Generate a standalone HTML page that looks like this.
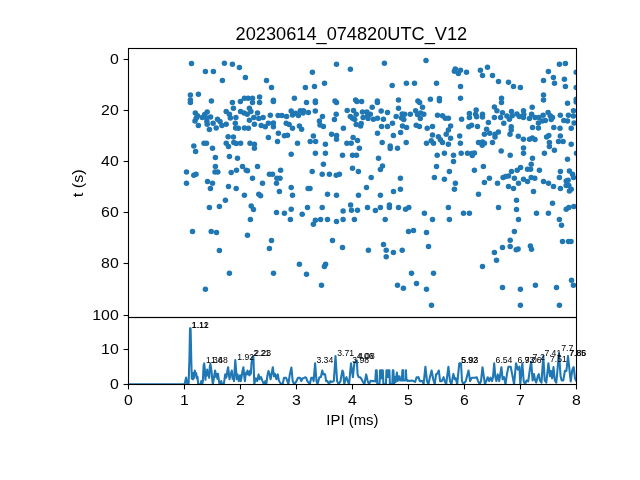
<!DOCTYPE html><html><head><meta charset="utf-8"><style>html,body{margin:0;padding:0;background:#fff;}svg{display:block;will-change:transform;}text{font-family:"Liberation Sans",sans-serif;fill:#000;}</style></head><body><svg width="640" height="480" viewBox="0 0 640 480"><rect width="640" height="480" fill="#fff"/><defs><clipPath id="ct"><rect x="128.5" y="48.5" width="448" height="269"/></clipPath><clipPath id="cb"><rect x="128.5" y="317.5" width="448" height="67"/></clipPath></defs><g clip-path="url(#ct)" fill="#1f77b4"><circle cx="191.5" cy="63.5" r="2.75"/><circle cx="205.4" cy="71.4" r="2.75"/><circle cx="213.4" cy="71.4" r="2.75"/><circle cx="224.4" cy="63.2" r="2.75"/><circle cx="232.4" cy="64.2" r="2.75"/><circle cx="239.4" cy="67.4" r="2.75"/><circle cx="245.4" cy="77.4" r="2.75"/><circle cx="222.4" cy="80.4" r="2.75"/><circle cx="190.4" cy="95.1" r="2.75"/><circle cx="198.4" cy="94.2" r="2.75"/><circle cx="190.4" cy="99.9" r="2.75"/><circle cx="190.4" cy="102.6" r="2.75"/><circle cx="211.4" cy="101.0" r="2.75"/><circle cx="232.4" cy="102.4" r="2.75"/><circle cx="240.4" cy="101.4" r="2.75"/><circle cx="244.4" cy="98.2" r="2.75"/><circle cx="248.1" cy="98.2" r="2.75"/><circle cx="252.5" cy="98.2" r="2.75"/><circle cx="252.5" cy="102.6" r="2.75"/><circle cx="259.6" cy="97.0" r="2.75"/><circle cx="259.6" cy="102.4" r="2.75"/><circle cx="233.4" cy="108.2" r="2.75"/><circle cx="249.4" cy="108.2" r="2.75"/><circle cx="266.5" cy="80.4" r="2.75"/><circle cx="271.5" cy="87.4" r="2.75"/><circle cx="273.4" cy="100.2" r="2.75"/><circle cx="273.4" cy="101.5" r="2.75"/><circle cx="294.4" cy="98.2" r="2.75"/><circle cx="305.4" cy="87.4" r="2.75"/><circle cx="314.5" cy="86.4" r="2.75"/><circle cx="312.4" cy="72.2" r="2.75"/><circle cx="324.5" cy="83.2" r="2.75"/><circle cx="336.5" cy="64.2" r="2.75"/><circle cx="306.5" cy="102.4" r="2.75"/><circle cx="315.4" cy="101.0" r="2.75"/><circle cx="315.4" cy="102.5" r="2.75"/><circle cx="335.0" cy="101.1" r="2.75"/><circle cx="336.5" cy="102.6" r="2.75"/><circle cx="350.4" cy="69.2" r="2.75"/><circle cx="384.4" cy="63.2" r="2.75"/><circle cx="392.2" cy="85.4" r="2.75"/><circle cx="406.4" cy="83.2" r="2.75"/><circle cx="414.5" cy="83.2" r="2.75"/><circle cx="355.6" cy="99.9" r="2.75"/><circle cx="356.9" cy="101.4" r="2.75"/><circle cx="361.6" cy="101.4" r="2.75"/><circle cx="377.4" cy="101.0" r="2.75"/><circle cx="377.4" cy="102.5" r="2.75"/><circle cx="398.5" cy="100.1" r="2.75"/><circle cx="372.2" cy="107.2" r="2.75"/><circle cx="398.5" cy="108.2" r="2.75"/><circle cx="417.9" cy="101.1" r="2.75"/><circle cx="419.6" cy="102.6" r="2.75"/><circle cx="422.5" cy="107.2" r="2.75"/><circle cx="347.2" cy="110.4" r="2.75"/><circle cx="353.5" cy="110.4" r="2.75"/><circle cx="381.2" cy="111.0" r="2.75"/><circle cx="415.6" cy="110.8" r="2.75"/><circle cx="455.3" cy="69.1" r="2.75"/><circle cx="454.4" cy="71.2" r="2.75"/><circle cx="460.5" cy="70.3" r="2.75"/><circle cx="458.4" cy="73.6" r="2.75"/><circle cx="426.0" cy="60.4" r="2.75"/><circle cx="466.5" cy="72.2" r="2.75"/><circle cx="480.4" cy="70.2" r="2.75"/><circle cx="487.5" cy="67.2" r="2.75"/><circle cx="482.5" cy="75.4" r="2.75"/><circle cx="492.5" cy="75.4" r="2.75"/><circle cx="498.5" cy="81.4" r="2.75"/><circle cx="436.5" cy="83.2" r="2.75"/><circle cx="460.5" cy="86.4" r="2.75"/><circle cx="430.4" cy="99.2" r="2.75"/><circle cx="439.4" cy="98.5" r="2.75"/><circle cx="439.4" cy="100.8" r="2.75"/><circle cx="460.5" cy="98.2" r="2.75"/><circle cx="501.5" cy="98.2" r="2.75"/><circle cx="501.5" cy="102.4" r="2.75"/><circle cx="494.4" cy="107.0" r="2.75"/><circle cx="476.2" cy="110.1" r="2.75"/><circle cx="496.9" cy="110.8" r="2.75"/><circle cx="508.5" cy="82.2" r="2.75"/><circle cx="513.5" cy="86.4" r="2.75"/><circle cx="520.4" cy="87.4" r="2.75"/><circle cx="543.5" cy="80.4" r="2.75"/><circle cx="548.4" cy="71.4" r="2.75"/><circle cx="553.4" cy="77.4" r="2.75"/><circle cx="554.5" cy="83.2" r="2.75"/><circle cx="559.4" cy="64.2" r="2.75"/><circle cx="565.4" cy="63.5" r="2.75"/><circle cx="564.4" cy="79.2" r="2.75"/><circle cx="565.4" cy="86.4" r="2.75"/><circle cx="576.2" cy="72.2" r="2.75"/><circle cx="576.2" cy="87.4" r="2.75"/><circle cx="543.5" cy="95.1" r="2.75"/><circle cx="543.5" cy="100.1" r="2.75"/><circle cx="576.2" cy="99.2" r="2.75"/><circle cx="576.2" cy="102.0" r="2.75"/><circle cx="567.5" cy="103.2" r="2.75"/><circle cx="532.2" cy="107.2" r="2.75"/><circle cx="523.5" cy="110.8" r="2.75"/><circle cx="573.5" cy="110.8" r="2.75"/><circle cx="511.5" cy="111.5" r="2.75"/><circle cx="195.3" cy="113.0" r="2.75"/><circle cx="197.5" cy="115.8" r="2.75"/><circle cx="195.0" cy="121.1" r="2.75"/><circle cx="198.4" cy="125.5" r="2.75"/><circle cx="207.2" cy="112.1" r="2.75"/><circle cx="202.2" cy="117.4" r="2.75"/><circle cx="210.6" cy="117.1" r="2.75"/><circle cx="206.9" cy="121.4" r="2.75"/><circle cx="207.2" cy="124.2" r="2.75"/><circle cx="213.1" cy="123.3" r="2.75"/><circle cx="209.4" cy="129.6" r="2.75"/><circle cx="217.5" cy="119.2" r="2.75"/><circle cx="220.0" cy="121.4" r="2.75"/><circle cx="216.2" cy="128.0" r="2.75"/><circle cx="221.9" cy="125.5" r="2.75"/><circle cx="226.2" cy="111.4" r="2.75"/><circle cx="229.4" cy="114.2" r="2.75"/><circle cx="230.3" cy="118.0" r="2.75"/><circle cx="235.9" cy="117.4" r="2.75"/><circle cx="235.3" cy="123.3" r="2.75"/><circle cx="235.6" cy="128.0" r="2.75"/><circle cx="238.4" cy="128.3" r="2.75"/><circle cx="226.2" cy="124.2" r="2.75"/><circle cx="228.1" cy="136.8" r="2.75"/><circle cx="233.4" cy="137.1" r="2.75"/><circle cx="240.6" cy="111.4" r="2.75"/><circle cx="244.1" cy="113.0" r="2.75"/><circle cx="247.2" cy="114.2" r="2.75"/><circle cx="250.9" cy="111.4" r="2.75"/><circle cx="257.5" cy="113.0" r="2.75"/><circle cx="253.8" cy="117.4" r="2.75"/><circle cx="249.4" cy="120.2" r="2.75"/><circle cx="258.8" cy="118.6" r="2.75"/><circle cx="254.4" cy="124.2" r="2.75"/><circle cx="244.4" cy="128.0" r="2.75"/><circle cx="248.4" cy="128.3" r="2.75"/><circle cx="263.1" cy="117.4" r="2.75"/><circle cx="270.3" cy="115.2" r="2.75"/><circle cx="278.1" cy="115.5" r="2.75"/><circle cx="281.9" cy="115.5" r="2.75"/><circle cx="286.6" cy="116.4" r="2.75"/><circle cx="291.2" cy="111.1" r="2.75"/><circle cx="292.5" cy="114.9" r="2.75"/><circle cx="261.2" cy="125.5" r="2.75"/><circle cx="265.3" cy="126.8" r="2.75"/><circle cx="268.4" cy="123.3" r="2.75"/><circle cx="273.4" cy="123.0" r="2.75"/><circle cx="273.4" cy="126.8" r="2.75"/><circle cx="286.2" cy="123.3" r="2.75"/><circle cx="289.1" cy="124.6" r="2.75"/><circle cx="292.5" cy="128.3" r="2.75"/><circle cx="278.4" cy="133.3" r="2.75"/><circle cx="284.4" cy="135.8" r="2.75"/><circle cx="287.5" cy="135.2" r="2.75"/><circle cx="268.4" cy="137.4" r="2.75"/><circle cx="295.6" cy="113.3" r="2.75"/><circle cx="298.4" cy="115.5" r="2.75"/><circle cx="300.3" cy="110.8" r="2.75"/><circle cx="303.4" cy="110.8" r="2.75"/><circle cx="303.1" cy="113.0" r="2.75"/><circle cx="308.4" cy="112.4" r="2.75"/><circle cx="315.3" cy="111.1" r="2.75"/><circle cx="322.5" cy="116.4" r="2.75"/><circle cx="319.4" cy="121.1" r="2.75"/><circle cx="320.0" cy="124.9" r="2.75"/><circle cx="323.4" cy="126.4" r="2.75"/><circle cx="299.4" cy="126.1" r="2.75"/><circle cx="301.6" cy="129.2" r="2.75"/><circle cx="313.4" cy="136.1" r="2.75"/><circle cx="336.2" cy="114.2" r="2.75"/><circle cx="334.4" cy="119.6" r="2.75"/><circle cx="356.2" cy="114.2" r="2.75"/><circle cx="350.3" cy="116.4" r="2.75"/><circle cx="352.5" cy="118.3" r="2.75"/><circle cx="354.7" cy="119.6" r="2.75"/><circle cx="362.5" cy="112.1" r="2.75"/><circle cx="363.1" cy="117.4" r="2.75"/><circle cx="356.2" cy="124.6" r="2.75"/><circle cx="361.2" cy="123.6" r="2.75"/><circle cx="360.6" cy="126.1" r="2.75"/><circle cx="343.4" cy="128.3" r="2.75"/><circle cx="331.6" cy="134.2" r="2.75"/><circle cx="336.6" cy="135.5" r="2.75"/><circle cx="353.1" cy="137.4" r="2.75"/><circle cx="366.9" cy="112.1" r="2.75"/><circle cx="370.3" cy="114.2" r="2.75"/><circle cx="367.5" cy="116.1" r="2.75"/><circle cx="368.1" cy="118.6" r="2.75"/><circle cx="373.4" cy="119.2" r="2.75"/><circle cx="377.5" cy="118.3" r="2.75"/><circle cx="387.5" cy="112.4" r="2.75"/><circle cx="383.4" cy="119.2" r="2.75"/><circle cx="392.5" cy="123.3" r="2.75"/><circle cx="396.2" cy="116.4" r="2.75"/><circle cx="381.6" cy="126.4" r="2.75"/><circle cx="387.5" cy="126.6" r="2.75"/><circle cx="377.5" cy="133.3" r="2.75"/><circle cx="393.4" cy="135.5" r="2.75"/><circle cx="402.2" cy="113.9" r="2.75"/><circle cx="404.7" cy="114.2" r="2.75"/><circle cx="401.6" cy="118.0" r="2.75"/><circle cx="403.8" cy="119.6" r="2.75"/><circle cx="410.3" cy="114.2" r="2.75"/><circle cx="417.5" cy="114.6" r="2.75"/><circle cx="420.6" cy="113.0" r="2.75"/><circle cx="423.8" cy="114.2" r="2.75"/><circle cx="420.3" cy="118.6" r="2.75"/><circle cx="402.5" cy="126.1" r="2.75"/><circle cx="406.6" cy="127.4" r="2.75"/><circle cx="416.2" cy="125.2" r="2.75"/><circle cx="419.4" cy="126.4" r="2.75"/><circle cx="427.2" cy="128.3" r="2.75"/><circle cx="432.5" cy="126.4" r="2.75"/><circle cx="400.6" cy="132.4" r="2.75"/><circle cx="432.5" cy="134.9" r="2.75"/><circle cx="437.5" cy="115.2" r="2.75"/><circle cx="442.5" cy="115.8" r="2.75"/><circle cx="445.3" cy="118.3" r="2.75"/><circle cx="448.4" cy="118.3" r="2.75"/><circle cx="461.6" cy="119.2" r="2.75"/><circle cx="450.6" cy="126.1" r="2.75"/><circle cx="448.4" cy="129.9" r="2.75"/><circle cx="446.2" cy="134.2" r="2.75"/><circle cx="438.4" cy="136.8" r="2.75"/><circle cx="459.7" cy="136.1" r="2.75"/><circle cx="469.4" cy="113.6" r="2.75"/><circle cx="469.4" cy="117.4" r="2.75"/><circle cx="475.6" cy="114.2" r="2.75"/><circle cx="476.6" cy="116.8" r="2.75"/><circle cx="482.5" cy="114.2" r="2.75"/><circle cx="482.5" cy="117.1" r="2.75"/><circle cx="488.4" cy="122.4" r="2.75"/><circle cx="494.4" cy="117.4" r="2.75"/><circle cx="502.5" cy="112.7" r="2.75"/><circle cx="500.6" cy="117.4" r="2.75"/><circle cx="503.8" cy="123.3" r="2.75"/><circle cx="468.8" cy="126.8" r="2.75"/><circle cx="471.6" cy="125.2" r="2.75"/><circle cx="477.5" cy="126.4" r="2.75"/><circle cx="486.6" cy="129.2" r="2.75"/><circle cx="484.4" cy="134.2" r="2.75"/><circle cx="489.7" cy="133.3" r="2.75"/><circle cx="495.0" cy="134.2" r="2.75"/><circle cx="498.4" cy="132.1" r="2.75"/><circle cx="495.0" cy="137.1" r="2.75"/><circle cx="506.9" cy="116.1" r="2.75"/><circle cx="512.2" cy="115.8" r="2.75"/><circle cx="509.4" cy="119.2" r="2.75"/><circle cx="516.9" cy="113.9" r="2.75"/><circle cx="519.4" cy="116.4" r="2.75"/><circle cx="523.4" cy="117.4" r="2.75"/><circle cx="523.8" cy="114.6" r="2.75"/><circle cx="531.6" cy="114.2" r="2.75"/><circle cx="529.4" cy="118.6" r="2.75"/><circle cx="535.0" cy="117.4" r="2.75"/><circle cx="538.8" cy="117.4" r="2.75"/><circle cx="538.4" cy="123.0" r="2.75"/><circle cx="538.4" cy="128.0" r="2.75"/><circle cx="532.5" cy="127.4" r="2.75"/><circle cx="511.2" cy="126.8" r="2.75"/><circle cx="511.2" cy="129.9" r="2.75"/><circle cx="510.0" cy="134.2" r="2.75"/><circle cx="543.1" cy="115.2" r="2.75"/><circle cx="545.3" cy="120.5" r="2.75"/><circle cx="542.2" cy="121.1" r="2.75"/><circle cx="548.1" cy="112.4" r="2.75"/><circle cx="550.3" cy="115.8" r="2.75"/><circle cx="552.5" cy="117.4" r="2.75"/><circle cx="551.2" cy="119.6" r="2.75"/><circle cx="560.3" cy="115.2" r="2.75"/><circle cx="563.8" cy="120.5" r="2.75"/><circle cx="567.5" cy="121.1" r="2.75"/><circle cx="568.4" cy="115.2" r="2.75"/><circle cx="573.4" cy="116.1" r="2.75"/><circle cx="574.1" cy="123.0" r="2.75"/><circle cx="553.8" cy="127.4" r="2.75"/><circle cx="560.0" cy="128.3" r="2.75"/><circle cx="571.2" cy="128.3" r="2.75"/><circle cx="548.8" cy="135.5" r="2.75"/><circle cx="546.6" cy="137.1" r="2.75"/><circle cx="560.3" cy="136.1" r="2.75"/><circle cx="193.8" cy="146.1" r="2.75"/><circle cx="195.6" cy="151.4" r="2.75"/><circle cx="204.0" cy="143.2" r="2.75"/><circle cx="206.5" cy="143.2" r="2.75"/><circle cx="212.5" cy="148.2" r="2.75"/><circle cx="226.2" cy="143.2" r="2.75"/><circle cx="228.5" cy="146.5" r="2.75"/><circle cx="233.8" cy="142.4" r="2.75"/><circle cx="236.2" cy="143.6" r="2.75"/><circle cx="240.6" cy="143.2" r="2.75"/><circle cx="250.0" cy="143.2" r="2.75"/><circle cx="254.4" cy="144.2" r="2.75"/><circle cx="254.4" cy="148.2" r="2.75"/><circle cx="215.4" cy="157.4" r="2.75"/><circle cx="229.4" cy="156.4" r="2.75"/><circle cx="237.5" cy="158.2" r="2.75"/><circle cx="215.4" cy="166.5" r="2.75"/><circle cx="215.0" cy="172.0" r="2.75"/><circle cx="217.8" cy="172.0" r="2.75"/><circle cx="242.5" cy="166.5" r="2.75"/><circle cx="257.5" cy="166.5" r="2.75"/><circle cx="236.5" cy="170.2" r="2.75"/><circle cx="231.2" cy="172.4" r="2.75"/><circle cx="246.2" cy="170.2" r="2.75"/><circle cx="247.5" cy="170.8" r="2.75"/><circle cx="186.5" cy="172.0" r="2.75"/><circle cx="193.8" cy="175.2" r="2.75"/><circle cx="196.0" cy="174.2" r="2.75"/><circle cx="186.5" cy="183.2" r="2.75"/><circle cx="207.5" cy="181.4" r="2.75"/><circle cx="212.5" cy="183.2" r="2.75"/><circle cx="210.4" cy="188.4" r="2.75"/><circle cx="252.5" cy="178.2" r="2.75"/><circle cx="228.5" cy="186.4" r="2.75"/><circle cx="236.2" cy="188.4" r="2.75"/><circle cx="262.5" cy="183.2" r="2.75"/><circle cx="244.4" cy="195.2" r="2.75"/><circle cx="258.8" cy="194.2" r="2.75"/><circle cx="260.6" cy="195.8" r="2.75"/><circle cx="277.5" cy="141.5" r="2.75"/><circle cx="297.5" cy="143.2" r="2.75"/><circle cx="310.2" cy="141.5" r="2.75"/><circle cx="315.6" cy="141.5" r="2.75"/><circle cx="325.4" cy="144.2" r="2.75"/><circle cx="336.5" cy="139.2" r="2.75"/><circle cx="291.2" cy="154.2" r="2.75"/><circle cx="315.4" cy="153.2" r="2.75"/><circle cx="325.4" cy="153.2" r="2.75"/><circle cx="342.5" cy="155.2" r="2.75"/><circle cx="323.4" cy="164.2" r="2.75"/><circle cx="280.6" cy="170.2" r="2.75"/><circle cx="312.2" cy="171.4" r="2.75"/><circle cx="269.4" cy="174.2" r="2.75"/><circle cx="272.5" cy="174.2" r="2.75"/><circle cx="276.9" cy="178.2" r="2.75"/><circle cx="280.0" cy="178.2" r="2.75"/><circle cx="276.5" cy="183.2" r="2.75"/><circle cx="322.2" cy="174.2" r="2.75"/><circle cx="329.4" cy="174.2" r="2.75"/><circle cx="336.2" cy="175.2" r="2.75"/><circle cx="339.4" cy="174.2" r="2.75"/><circle cx="291.2" cy="187.4" r="2.75"/><circle cx="308.1" cy="188.4" r="2.75"/><circle cx="310.0" cy="188.4" r="2.75"/><circle cx="279.4" cy="191.4" r="2.75"/><circle cx="292.5" cy="195.2" r="2.75"/><circle cx="327.5" cy="194.2" r="2.75"/><circle cx="336.5" cy="195.2" r="2.75"/><circle cx="357.5" cy="140.5" r="2.75"/><circle cx="346.9" cy="143.2" r="2.75"/><circle cx="351.2" cy="143.2" r="2.75"/><circle cx="382.2" cy="142.4" r="2.75"/><circle cx="390.2" cy="146.1" r="2.75"/><circle cx="390.2" cy="148.6" r="2.75"/><circle cx="397.5" cy="148.2" r="2.75"/><circle cx="406.2" cy="142.4" r="2.75"/><circle cx="359.4" cy="148.2" r="2.75"/><circle cx="352.5" cy="155.2" r="2.75"/><circle cx="356.5" cy="155.2" r="2.75"/><circle cx="378.5" cy="158.2" r="2.75"/><circle cx="352.5" cy="168.2" r="2.75"/><circle cx="358.4" cy="171.4" r="2.75"/><circle cx="382.5" cy="166.1" r="2.75"/><circle cx="380.4" cy="169.5" r="2.75"/><circle cx="371.2" cy="177.4" r="2.75"/><circle cx="400.4" cy="178.2" r="2.75"/><circle cx="366.5" cy="187.4" r="2.75"/><circle cx="393.5" cy="191.4" r="2.75"/><circle cx="400.4" cy="189.2" r="2.75"/><circle cx="358.5" cy="195.2" r="2.75"/><circle cx="380.4" cy="195.2" r="2.75"/><circle cx="426.5" cy="143.2" r="2.75"/><circle cx="431.2" cy="140.8" r="2.75"/><circle cx="433.5" cy="143.2" r="2.75"/><circle cx="442.5" cy="142.4" r="2.75"/><circle cx="448.4" cy="144.2" r="2.75"/><circle cx="460.4" cy="143.2" r="2.75"/><circle cx="478.5" cy="142.4" r="2.75"/><circle cx="482.5" cy="142.0" r="2.75"/><circle cx="484.4" cy="143.2" r="2.75"/><circle cx="482.2" cy="145.2" r="2.75"/><circle cx="492.5" cy="142.4" r="2.75"/><circle cx="501.2" cy="151.1" r="2.75"/><circle cx="437.2" cy="155.2" r="2.75"/><circle cx="444.4" cy="153.2" r="2.75"/><circle cx="453.5" cy="155.2" r="2.75"/><circle cx="453.5" cy="161.4" r="2.75"/><circle cx="461.2" cy="153.2" r="2.75"/><circle cx="467.5" cy="153.2" r="2.75"/><circle cx="471.9" cy="153.6" r="2.75"/><circle cx="474.4" cy="153.0" r="2.75"/><circle cx="472.2" cy="155.5" r="2.75"/><circle cx="436.5" cy="166.4" r="2.75"/><circle cx="449.4" cy="171.4" r="2.75"/><circle cx="474.4" cy="170.2" r="2.75"/><circle cx="483.4" cy="166.4" r="2.75"/><circle cx="434.4" cy="177.4" r="2.75"/><circle cx="444.4" cy="179.2" r="2.75"/><circle cx="455.4" cy="183.2" r="2.75"/><circle cx="454.4" cy="189.2" r="2.75"/><circle cx="489.4" cy="178.2" r="2.75"/><circle cx="484.4" cy="182.4" r="2.75"/><circle cx="497.5" cy="183.2" r="2.75"/><circle cx="478.5" cy="194.2" r="2.75"/><circle cx="535.0" cy="139.5" r="2.75"/><circle cx="549.4" cy="142.4" r="2.75"/><circle cx="549.4" cy="146.5" r="2.75"/><circle cx="558.5" cy="141.5" r="2.75"/><circle cx="563.1" cy="141.5" r="2.75"/><circle cx="571.2" cy="144.2" r="2.75"/><circle cx="576.5" cy="153.2" r="2.75"/><circle cx="523.5" cy="148.0" r="2.75"/><circle cx="523.5" cy="153.2" r="2.75"/><circle cx="510.2" cy="155.2" r="2.75"/><circle cx="544.4" cy="153.2" r="2.75"/><circle cx="554.4" cy="150.2" r="2.75"/><circle cx="532.5" cy="158.2" r="2.75"/><circle cx="567.5" cy="159.2" r="2.75"/><circle cx="531.2" cy="164.2" r="2.75"/><circle cx="520.6" cy="167.4" r="2.75"/><circle cx="517.2" cy="170.2" r="2.75"/><circle cx="527.5" cy="169.2" r="2.75"/><circle cx="530.6" cy="169.2" r="2.75"/><circle cx="539.4" cy="170.2" r="2.75"/><circle cx="511.5" cy="171.4" r="2.75"/><circle cx="560.4" cy="171.4" r="2.75"/><circle cx="569.4" cy="171.1" r="2.75"/><circle cx="572.5" cy="174.2" r="2.75"/><circle cx="573.5" cy="177.4" r="2.75"/><circle cx="508.5" cy="176.1" r="2.75"/><circle cx="514.4" cy="178.2" r="2.75"/><circle cx="523.5" cy="179.2" r="2.75"/><circle cx="527.5" cy="181.4" r="2.75"/><circle cx="531.2" cy="177.4" r="2.75"/><circle cx="534.8" cy="178.2" r="2.75"/><circle cx="518.5" cy="183.2" r="2.75"/><circle cx="543.5" cy="181.4" r="2.75"/><circle cx="548.5" cy="183.2" r="2.75"/><circle cx="553.5" cy="186.4" r="2.75"/><circle cx="559.4" cy="177.4" r="2.75"/><circle cx="560.4" cy="188.4" r="2.75"/><circle cx="566.2" cy="181.1" r="2.75"/><circle cx="568.1" cy="180.2" r="2.75"/><circle cx="566.2" cy="185.5" r="2.75"/><circle cx="568.8" cy="185.5" r="2.75"/><circle cx="571.2" cy="189.2" r="2.75"/><circle cx="569.4" cy="191.1" r="2.75"/><circle cx="508.5" cy="186.4" r="2.75"/><circle cx="513.5" cy="188.4" r="2.75"/><circle cx="533.5" cy="191.4" r="2.75"/><circle cx="225.4" cy="200.2" r="2.75"/><circle cx="209.4" cy="207.4" r="2.75"/><circle cx="219.4" cy="206.4" r="2.75"/><circle cx="251.2" cy="206.1" r="2.75"/><circle cx="253.5" cy="209.5" r="2.75"/><circle cx="250.4" cy="219.5" r="2.75"/><circle cx="192.5" cy="231.4" r="2.75"/><circle cx="211.2" cy="231.4" r="2.75"/><circle cx="216.5" cy="232.4" r="2.75"/><circle cx="247.5" cy="235.2" r="2.75"/><circle cx="219.4" cy="250.5" r="2.75"/><circle cx="276.5" cy="212.4" r="2.75"/><circle cx="284.4" cy="213.2" r="2.75"/><circle cx="291.2" cy="209.2" r="2.75"/><circle cx="290.4" cy="219.5" r="2.75"/><circle cx="302.2" cy="214.2" r="2.75"/><circle cx="307.5" cy="207.4" r="2.75"/><circle cx="322.2" cy="207.4" r="2.75"/><circle cx="315.4" cy="220.2" r="2.75"/><circle cx="313.4" cy="224.2" r="2.75"/><circle cx="320.6" cy="219.5" r="2.75"/><circle cx="327.5" cy="219.5" r="2.75"/><circle cx="336.5" cy="221.4" r="2.75"/><circle cx="343.1" cy="211.1" r="2.75"/><circle cx="343.1" cy="219.5" r="2.75"/><circle cx="271.5" cy="240.5" r="2.75"/><circle cx="269.4" cy="248.4" r="2.75"/><circle cx="332.5" cy="240.5" r="2.75"/><circle cx="342.5" cy="247.4" r="2.75"/><circle cx="350.6" cy="204.9" r="2.75"/><circle cx="351.5" cy="210.2" r="2.75"/><circle cx="357.5" cy="210.2" r="2.75"/><circle cx="367.5" cy="207.4" r="2.75"/><circle cx="375.4" cy="210.5" r="2.75"/><circle cx="380.4" cy="207.4" r="2.75"/><circle cx="389.4" cy="204.9" r="2.75"/><circle cx="389.4" cy="207.4" r="2.75"/><circle cx="398.5" cy="207.4" r="2.75"/><circle cx="405.6" cy="209.2" r="2.75"/><circle cx="408.8" cy="207.4" r="2.75"/><circle cx="424.4" cy="213.2" r="2.75"/><circle cx="354.4" cy="219.5" r="2.75"/><circle cx="385.2" cy="219.5" r="2.75"/><circle cx="408.5" cy="231.4" r="2.75"/><circle cx="413.5" cy="230.5" r="2.75"/><circle cx="383.5" cy="244.5" r="2.75"/><circle cx="368.4" cy="250.2" r="2.75"/><circle cx="386.2" cy="250.2" r="2.75"/><circle cx="393.4" cy="252.4" r="2.75"/><circle cx="402.2" cy="250.2" r="2.75"/><circle cx="386.2" cy="256.8" r="2.75"/><circle cx="448.4" cy="207.4" r="2.75"/><circle cx="432.5" cy="219.5" r="2.75"/><circle cx="449.4" cy="219.5" r="2.75"/><circle cx="463.5" cy="213.2" r="2.75"/><circle cx="469.4" cy="213.2" r="2.75"/><circle cx="498.5" cy="207.4" r="2.75"/><circle cx="426.5" cy="232.4" r="2.75"/><circle cx="428.5" cy="246.4" r="2.75"/><circle cx="494.4" cy="252.4" r="2.75"/><circle cx="502.5" cy="247.4" r="2.75"/><circle cx="516.5" cy="200.2" r="2.75"/><circle cx="516.5" cy="209.5" r="2.75"/><circle cx="518.5" cy="219.5" r="2.75"/><circle cx="514.4" cy="231.4" r="2.75"/><circle cx="510.2" cy="240.2" r="2.75"/><circle cx="510.2" cy="246.4" r="2.75"/><circle cx="516.2" cy="249.8" r="2.75"/><circle cx="518.1" cy="249.0" r="2.75"/><circle cx="530.4" cy="245.9" r="2.75"/><circle cx="531.5" cy="249.2" r="2.75"/><circle cx="536.5" cy="213.2" r="2.75"/><circle cx="548.4" cy="213.2" r="2.75"/><circle cx="552.5" cy="203.2" r="2.75"/><circle cx="559.4" cy="219.5" r="2.75"/><circle cx="561.5" cy="225.2" r="2.75"/><circle cx="566.2" cy="209.2" r="2.75"/><circle cx="568.8" cy="207.4" r="2.75"/><circle cx="573.8" cy="206.5" r="2.75"/><circle cx="562.5" cy="241.5" r="2.75"/><circle cx="568.5" cy="241.5" r="2.75"/><circle cx="571.0" cy="241.5" r="2.75"/><circle cx="229.4" cy="273.2" r="2.75"/><circle cx="205.4" cy="289.2" r="2.75"/><circle cx="273.5" cy="273.2" r="2.75"/><circle cx="299.4" cy="264.2" r="2.75"/><circle cx="306.5" cy="274.2" r="2.75"/><circle cx="325.6" cy="264.2" r="2.75"/><circle cx="324.4" cy="266.5" r="2.75"/><circle cx="321.5" cy="285.2" r="2.75"/><circle cx="411.5" cy="273.2" r="2.75"/><circle cx="397.5" cy="285.2" r="2.75"/><circle cx="403.4" cy="288.2" r="2.75"/><circle cx="416.5" cy="283.4" r="2.75"/><circle cx="433.5" cy="273.2" r="2.75"/><circle cx="426.5" cy="289.2" r="2.75"/><circle cx="431.5" cy="305.2" r="2.75"/><circle cx="482.5" cy="266.5" r="2.75"/><circle cx="496.5" cy="260.2" r="2.75"/><circle cx="502.5" cy="287.4" r="2.75"/><circle cx="520.4" cy="289.2" r="2.75"/><circle cx="535.4" cy="285.2" r="2.75"/><circle cx="556.5" cy="287.4" r="2.75"/><circle cx="571.5" cy="280.2" r="2.75"/><circle cx="573.4" cy="285.2" r="2.75"/><circle cx="520.4" cy="305.2" r="2.75"/><circle cx="559.4" cy="305.2" r="2.75"/><circle cx="518.3" cy="136.3" r="2.75"/><circle cx="523.4" cy="139.3" r="2.75"/><circle cx="529.5" cy="139.3" r="2.75"/><circle cx="532.3" cy="138.1" r="2.75"/><circle cx="503.1" cy="177.4" r="2.75"/><circle cx="505.6" cy="176.6" r="2.75"/><circle cx="440.4" cy="139.8" r="2.75"/><circle cx="450.6" cy="138.3" r="2.75"/><circle cx="196.2" cy="118.3" r="2.75"/><circle cx="204.7" cy="114.6" r="2.75"/><circle cx="206.6" cy="118.0" r="2.75"/></g><g clip-path="url(#cb)"><polyline points="128.50,384.20 184.60,384.20 186.10,377.60 187.30,384.20 188.60,384.20 189.50,355.80 190.00,328.40 190.60,328.40 191.30,360.80 191.80,378.80 192.40,374.80 193.00,379.30 193.60,372.80 194.10,377.80 194.80,370.60 195.50,374.80 196.20,373.30 196.80,378.30 197.50,376.80 198.20,384.20 200.50,384.20 201.30,381.00 202.20,384.20 202.80,381.80 203.60,365.80 204.20,363.40 204.80,368.80 205.40,379.80 206.00,372.30 206.60,375.80 207.20,369.60 207.80,374.80 208.40,373.30 209.20,377.80 209.80,366.80 210.30,363.80 210.90,366.80 211.60,371.80 212.20,378.80 212.80,384.20 213.50,380.80 214.20,375.80 215.10,370.50 215.90,376.80 216.60,373.80 217.40,378.80 218.00,373.90 218.80,379.80 219.50,384.20 220.30,384.20 221.20,381.10 222.00,384.20 223.80,384.20 224.60,378.80 225.20,374.40 225.80,377.80 226.60,376.80 227.40,370.80 228.10,367.20 228.80,372.80 229.50,379.20 230.20,375.80 231.00,373.40 231.80,370.50 232.60,378.80 233.20,377.20 234.00,381.10 234.60,370.80 235.30,360.00 236.00,368.80 236.70,379.20 237.40,374.40 238.10,376.80 238.80,381.10 239.60,377.80 240.10,375.30 240.80,381.10 241.60,376.80 242.50,370.80 243.40,367.20 244.20,375.80 244.90,381.10 245.60,374.80 246.30,372.40 247.00,374.30 247.50,370.50 248.20,374.40 248.90,372.40 249.60,375.40 250.20,370.50 250.90,373.80 251.50,362.80 252.50,356.60 253.40,356.60 254.30,384.20 255.00,381.10 255.75,378.20 257.20,381.10 258.60,374.40 259.60,379.20 261.00,377.20 262.50,381.10 263.90,384.20 265.30,381.10 266.30,384.20 267.40,375.80 268.50,371.00 269.60,374.40 270.60,379.20 271.80,372.80 272.80,367.20 274.00,376.30 275.10,373.90 276.40,379.20 277.80,374.40 278.80,380.10 279.70,382.00 281.20,384.20 282.60,384.20 284.00,377.70 286.00,377.70 287.40,381.10 288.40,384.20 289.80,374.40 291.40,367.50 292.70,381.10 294.10,384.20 296.00,382.00 298.00,377.70 299.90,377.70 301.30,381.10 302.50,378.20 303.70,378.20 305.00,377.20 306.10,377.70 307.40,381.10 309.80,384.20 311.20,377.70 312.70,377.70 313.60,381.10 315.10,363.30 316.50,381.10 317.50,384.20 319.40,377.20 320.80,377.20 322.30,370.50 323.20,374.40 324.20,373.90 325.10,374.40 326.10,381.10 327.50,381.10 329.00,384.20 330.40,381.10 331.80,382.00 333.80,381.10 335.50,356.10 337.10,381.10 338.60,384.20 340.50,381.10 342.40,370.50 343.30,372.40 344.30,384.20 345.30,379.20 346.40,377.20 347.70,381.10 349.10,384.20 351.00,363.30 352.90,377.20 354.40,362.80 355.30,361.80 356.80,360.30 357.60,374.40 358.70,377.20 360.10,377.20 361.60,379.20 363.00,382.00 364.40,384.20 366.20,374.40 367.70,381.10 369.10,384.20 370.50,380.80 372.50,381.10 374.90,381.10 375.30,381.50 375.90,370.20 376.73,370.20 377.29,384.20 379.51,384.20 380.07,370.20 380.66,370.20 381.22,378.50 381.78,370.20 382.83,370.20 383.39,384.20 385.91,384.20 386.47,370.20 387.03,370.20 387.59,377.00 388.15,370.20 388.71,377.00 389.38,370.20 389.94,384.20 392.26,384.20 392.82,370.20 393.38,370.20 394.20,384.20 394.90,377.00 395.60,382.00 396.90,372.60 397.60,381.00 398.30,376.40 398.90,379.50 399.60,376.40 400.15,380.50 401.85,380.50 402.40,370.20 403.00,380.00 403.30,370.20 402.73,370.20 403.29,380.50 405.41,380.50 405.97,370.20 405.86,370.20 406.42,379.00 407.50,381.00 408.00,380.30 409.50,381.10 411.50,380.60 413.70,381.10 415.10,382.00 416.60,377.20 417.50,377.70 418.50,377.20 419.80,381.10 421.20,381.10 422.70,381.10 423.60,384.20 425.40,366.70 427.00,381.10 428.40,384.20 429.90,377.20 431.60,370.50 433.20,379.20 434.70,384.20 436.10,374.40 437.50,373.40 438.80,370.50 440.10,381.10 441.80,381.10 443.60,377.20 444.70,381.10 446.20,384.20 448.40,366.70 450.00,381.10 451.40,384.20 453.40,373.90 454.80,379.20 455.70,378.20 457.20,384.20 459.30,363.30 461.00,363.30 462.00,381.10 463.40,384.20 465.80,381.10 468.50,370.50 470.10,381.10 471.40,378.20 472.40,377.70 473.80,377.70 475.30,377.70 476.70,377.20 478.10,381.10 479.60,384.20 481.00,381.10 482.50,367.20 483.90,377.20 484.90,384.20 486.30,381.10 487.70,377.20 489.20,381.10 490.60,377.70 492.00,381.10 493.00,377.20 494.20,363.30 495.40,377.20 496.40,381.10 497.80,374.40 499.20,381.10 501.40,367.20 502.60,379.20 504.00,377.20 505.50,384.20 506.90,374.40 508.40,366.70 510.70,366.70 512.20,374.40 514.10,384.20 516.00,363.30 517.90,369.60 519.40,366.70 520.30,384.20 522.30,363.30 523.70,381.10 525.10,384.20 526.60,380.40 528.20,381.50 529.80,369.80 531.20,361.80 532.60,380.40 534.00,374.10 535.10,380.40 536.20,382.60 537.80,376.20 538.80,374.10 539.90,380.40 541.50,382.60 543.30,356.00 544.70,380.40 546.30,382.60 548.40,363.40 550.00,376.20 551.00,370.90 552.10,378.30 553.50,367.10 554.80,380.40 556.30,382.60 559.00,353.30 560.60,376.20 561.70,380.40 563.30,380.40 564.90,370.90 566.40,370.90 568.00,356.00 569.60,370.90 570.70,381.50 572.30,369.80 573.70,367.10 575.00,378.30 576.50,381.50" fill="none" stroke="#1f77b4" stroke-width="2.08" stroke-linejoin="round" stroke-linecap="butt"/></g><text x="191.6" y="328.2" font-size="9.8" textLength="16.80" lengthAdjust="spacingAndGlyphs">1.11</text><text x="192.1" y="328.2" font-size="9.8" textLength="16.80" lengthAdjust="spacingAndGlyphs">1.12</text><text x="205.9" y="362.5" font-size="9.8" textLength="16.80" lengthAdjust="spacingAndGlyphs">1.36</text><text x="210.9" y="362.5" font-size="9.8" textLength="16.80" lengthAdjust="spacingAndGlyphs">1.48</text><text x="237.2" y="360.0" font-size="9.8" textLength="16.80" lengthAdjust="spacingAndGlyphs">1.92</text><text x="253.2" y="355.8" font-size="9.8" textLength="16.80" lengthAdjust="spacingAndGlyphs">2.21</text><text x="254.3" y="355.8" font-size="9.8" textLength="16.80" lengthAdjust="spacingAndGlyphs">2.23</text><text x="316.4" y="362.8" font-size="9.8" textLength="16.80" lengthAdjust="spacingAndGlyphs">3.34</text><text x="337.2" y="355.6" font-size="9.8" textLength="16.80" lengthAdjust="spacingAndGlyphs">3.71</text><text x="352.3" y="362.7" font-size="9.8" textLength="16.80" lengthAdjust="spacingAndGlyphs">3.98</text><text x="356.7" y="359.4" font-size="9.8" textLength="16.80" lengthAdjust="spacingAndGlyphs">4.06</text><text x="357.9" y="359.4" font-size="9.8" textLength="16.80" lengthAdjust="spacingAndGlyphs">4.08</text><text x="460.9" y="362.8" font-size="9.8" textLength="16.80" lengthAdjust="spacingAndGlyphs">5.92</text><text x="461.5" y="362.8" font-size="9.8" textLength="16.80" lengthAdjust="spacingAndGlyphs">5.93</text><text x="495.6" y="362.8" font-size="9.8" textLength="16.80" lengthAdjust="spacingAndGlyphs">6.54</text><text x="517.5" y="362.7" font-size="9.8" textLength="16.80" lengthAdjust="spacingAndGlyphs">6.93</text><text x="524.8" y="362.7" font-size="9.8" textLength="16.80" lengthAdjust="spacingAndGlyphs">7.06</text><text x="532.6" y="359.5" font-size="9.8" textLength="12.20" lengthAdjust="spacingAndGlyphs">7.2</text><text x="544.4" y="355.5" font-size="9.8" textLength="16.80" lengthAdjust="spacingAndGlyphs">7.41</text><text x="550.0" y="362.3" font-size="9.8" textLength="16.80" lengthAdjust="spacingAndGlyphs">7.51</text><text x="561.2" y="351.3" font-size="9.8" textLength="12.20" lengthAdjust="spacingAndGlyphs">7.7</text><text x="569.0" y="355.8" font-size="9.8" textLength="16.80" lengthAdjust="spacingAndGlyphs">7.85</text><text x="569.6" y="355.8" font-size="9.8" textLength="16.80" lengthAdjust="spacingAndGlyphs">7.86</text><g stroke="#000" stroke-width="1.1" fill="none"><rect x="128.5" y="48.5" width="448" height="269"/><rect x="128.5" y="317.5" width="448" height="67"/><line x1="123.6" y1="59.5" x2="128.5" y2="59.5"/><line x1="123.6" y1="110.5" x2="128.5" y2="110.5"/><line x1="123.6" y1="161.5" x2="128.5" y2="161.5"/><line x1="123.6" y1="212.5" x2="128.5" y2="212.5"/><line x1="123.6" y1="263.5" x2="128.5" y2="263.5"/><line x1="123.6" y1="315.5" x2="128.5" y2="315.5"/><line x1="123.6" y1="384.5" x2="128.5" y2="384.5"/><line x1="123.6" y1="349.5" x2="128.5" y2="349.5"/><line x1="128.5" y1="384.5" x2="128.5" y2="389.4"/><line x1="184.5" y1="384.5" x2="184.5" y2="389.4"/><line x1="240.5" y1="384.5" x2="240.5" y2="389.4"/><line x1="296.5" y1="384.5" x2="296.5" y2="389.4"/><line x1="352.5" y1="384.5" x2="352.5" y2="389.4"/><line x1="408.5" y1="384.5" x2="408.5" y2="389.4"/><line x1="464.5" y1="384.5" x2="464.5" y2="389.4"/><line x1="520.5" y1="384.5" x2="520.5" y2="389.4"/><line x1="576.5" y1="384.5" x2="576.5" y2="389.4"/></g><g font-size="14" text-anchor="end"><text x="118.8" y="64" textLength="8.83" lengthAdjust="spacingAndGlyphs">0</text><text x="118.8" y="115" textLength="17.66" lengthAdjust="spacingAndGlyphs">20</text><text x="118.8" y="166" textLength="17.66" lengthAdjust="spacingAndGlyphs">40</text><text x="118.8" y="217" textLength="17.66" lengthAdjust="spacingAndGlyphs">60</text><text x="118.8" y="268" textLength="17.66" lengthAdjust="spacingAndGlyphs">80</text><text x="118.8" y="320" textLength="26.49" lengthAdjust="spacingAndGlyphs">100</text><text x="118.8" y="389" textLength="8.83" lengthAdjust="spacingAndGlyphs">0</text><text x="118.8" y="354" textLength="17.66" lengthAdjust="spacingAndGlyphs">10</text></g><g font-size="14" text-anchor="middle"><text x="128.5" y="404.6" textLength="8.83" lengthAdjust="spacingAndGlyphs">0</text><text x="184.5" y="404.6" textLength="8.83" lengthAdjust="spacingAndGlyphs">1</text><text x="240.5" y="404.6" textLength="8.83" lengthAdjust="spacingAndGlyphs">2</text><text x="296.5" y="404.6" textLength="8.83" lengthAdjust="spacingAndGlyphs">3</text><text x="352.5" y="404.6" textLength="8.83" lengthAdjust="spacingAndGlyphs">4</text><text x="408.5" y="404.6" textLength="8.83" lengthAdjust="spacingAndGlyphs">5</text><text x="464.5" y="404.6" textLength="8.83" lengthAdjust="spacingAndGlyphs">6</text><text x="520.5" y="404.6" textLength="8.83" lengthAdjust="spacingAndGlyphs">7</text><text x="576.5" y="404.6" textLength="8.83" lengthAdjust="spacingAndGlyphs">8</text></g><text x="352.4" y="424.6" font-size="14" text-anchor="middle" textLength="52.2" lengthAdjust="spacingAndGlyphs">IPI (ms)</text><text transform="translate(83.1,183.3) rotate(-90)" font-size="14" text-anchor="middle" textLength="27.9" lengthAdjust="spacingAndGlyphs">t (s)</text><text x="351.4" y="40" font-size="18.4" text-anchor="middle" textLength="231.7" lengthAdjust="spacingAndGlyphs">20230614_074820UTC_V12</text></svg></body></html>
